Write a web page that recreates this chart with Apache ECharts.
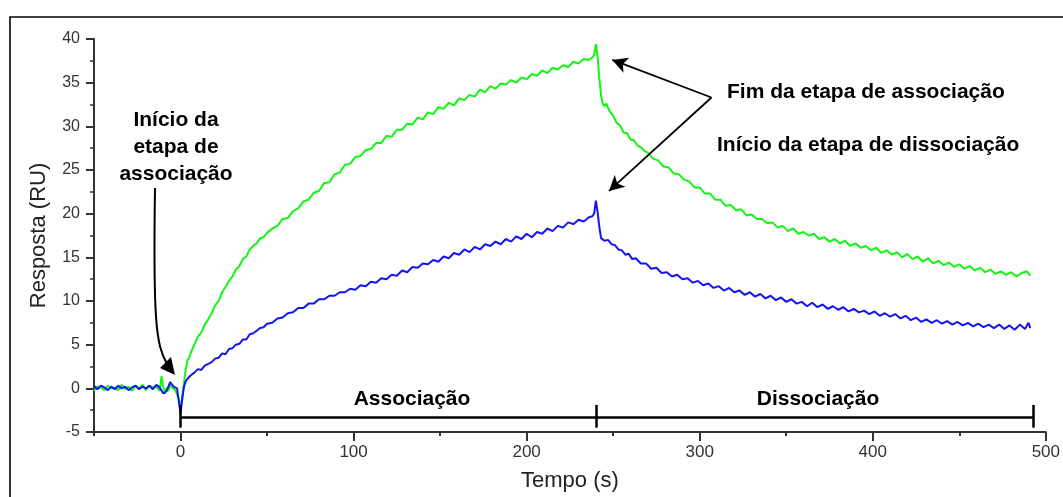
<!DOCTYPE html>
<html>
<head>
<meta charset="utf-8">
<script src="https://cdn.jsdelivr.net/npm/echarts@6/dist/echarts.min.js"></script>
<style>html,body{margin:0;padding:0;background:#fff}#c{width:1063px;height:497px}</style>
</head>
<body>
<div id="c"></div>
<script>
// Tick values
const xMajorTicks = [0, 100, 200, 300, 400, 500];

// Green sensorgram [time s, response RU]
const greenSeries = [[-50,-0.3],[-48,0.2],[-46,0.1],[-44,-0.2],[-42,0.3],[-40,0.0],[-38,0.1],[-36,-0.2],[-34,0.4],[-32,-0.1],[-30,0.2],[-28,-0.3],[-26,0.3],[-24,0.0],[-22,0.4],[-20,-0.2],[-18,0.3],[-16,0.1],[-14,0.2],[-12,-0.3],[-11,1.4],[-10,0.2],[-9,-0.6],[-8,0.1],[-7,-0.3],[-6,0.4],[-5,0.1],[-4,0.3],[-3,-0.2],[-2,-0.4],[-1,-1.2],[0,-2.3],[1,-0.8],[2,0.6],[3,2.2],[4,3.2],[5,3.5],[6,4.1],[8,5.0],[10,5.9],[12,6.4],[14,7.3],[16,7.9],[18,8.6],[20,9.5],[22,10.0],[24,11.0],[26,11.6],[28,12.3],[30,12.8],[32,13.6],[34,14.0],[36,14.8],[38,15.1],[40,15.9],[42,16.3],[44,16.6],[46,17.2],[48,17.3],[50,17.8],[53,18.3],[56,18.6],[59,19.4],[62,19.5],[65,20.3],[68,20.6],[71,21.4],[74,21.6],[77,22.4],[80,22.6],[83,23.5],[86,23.6],[89,24.5],[92,24.7],[95,25.6],[98,25.7],[101,26.5],[104,26.6],[107,27.3],[110,27.4],[113,28.1],[116,28.1],[119,28.9],[122,28.8],[125,29.6],[128,29.6],[131,30.3],[134,30.2],[137,31.0],[140,30.8],[143,31.6],[146,31.4],[149,32.2],[152,32.0],[155,32.7],[158,32.4],[161,33.2],[164,33.0],[167,33.6],[170,33.4],[173,34.2],[176,33.9],[179,34.6],[182,34.3],[185,34.9],[188,34.8],[191,35.3],[194,35.0],[197,35.6],[200,35.4],[203,36.0],[206,35.8],[209,36.4],[212,36.1],[215,36.7],[218,36.5],[221,37.0],[224,36.8],[227,37.4],[230,37.2],[233,37.7],[236,37.6],[238,37.9],[239,38.2],[240,39.4],[241,38.0],[242,35.5],[243,33.5],[244,32.6],[245,32.3],[246,32.6],[248,31.7],[250,31.2],[252,30.4],[254,30.1],[256,29.3],[258,29.2],[260,28.5],[262,28.4],[264,27.8],[266,27.6],[268,27.2],[270,27.0],[273,26.3],[276,26.1],[279,25.4],[282,25.3],[285,24.6],[288,24.5],[291,23.9],[294,23.7],[297,23.0],[300,23.0],[303,22.3],[306,22.3],[309,21.6],[312,21.6],[315,20.9],[318,21.0],[321,20.4],[324,20.5],[327,19.8],[330,19.9],[333,19.4],[336,19.4],[339,18.9],[342,19.0],[345,18.4],[348,18.6],[351,18.0],[354,18.3],[357,17.7],[360,17.9],[363,17.5],[366,17.7],[369,17.1],[372,17.3],[375,16.8],[378,17.1],[381,16.6],[384,16.9],[387,16.3],[390,16.6],[393,16.1],[396,16.3],[399,15.8],[402,16.1],[405,15.5],[408,15.8],[411,15.3],[414,15.6],[417,15.0],[420,15.4],[423,14.8],[426,15.1],[429,14.5],[432,14.9],[435,14.3],[438,14.6],[441,14.1],[444,14.4],[447,13.9],[450,14.2],[453,13.7],[456,14.0],[459,13.5],[462,13.8],[465,13.3],[468,13.6],[471,13.1],[474,13.4],[477,13.0],[480,13.3],[483,12.8],[486,13.2],[489,13.4],[491,12.9]];

// Blue sensorgram [time s, response RU]
const blueSeries = [[-50,0.3],[-48,-0.1],[-46,0.3],[-44,0.1],[-42,-0.2],[-40,0.2],[-38,-0.1],[-36,0.3],[-34,0.0],[-32,0.2],[-30,-0.2],[-28,0.1],[-26,0.3],[-24,-0.1],[-22,0.2],[-20,0.0],[-18,0.3],[-16,-0.1],[-14,0.4],[-12,0.1],[-10,-0.6],[-9,-0.8],[-8,-0.3],[-7,0.2],[-6,0.7],[-5,0.5],[-4,0.2],[-3,0.4],[-2,0.0],[-1,-1.5],[0,-2.9],[1,-1.2],[2,0.2],[3,0.8],[4,1.1],[6,1.5],[8,1.8],[10,2.2],[12,2.1],[14,2.6],[16,2.8],[18,3.0],[20,3.4],[22,3.5],[24,4.0],[26,3.9],[28,4.5],[30,4.6],[32,5.0],[34,5.1],[36,5.6],[38,5.6],[40,6.2],[42,6.3],[44,6.6],[46,6.9],[48,7.0],[50,7.4],[53,7.5],[56,8.0],[59,8.1],[62,8.6],[65,8.7],[68,9.2],[71,9.2],[74,9.7],[77,9.7],[80,10.2],[83,10.2],[86,10.6],[89,10.6],[92,11.0],[95,11.0],[98,11.4],[101,11.3],[104,11.8],[107,11.7],[110,12.2],[113,12.1],[116,12.6],[119,12.5],[122,13.0],[125,12.9],[128,13.5],[131,13.3],[134,13.9],[137,13.8],[140,14.3],[143,14.2],[146,14.7],[149,14.5],[152,15.1],[155,14.9],[158,15.5],[161,15.3],[164,15.9],[167,15.6],[170,16.2],[173,15.9],[176,16.5],[179,16.3],[182,16.8],[185,16.5],[188,17.1],[191,16.8],[194,17.4],[197,17.1],[200,17.7],[203,17.3],[206,17.9],[209,17.7],[212,18.3],[215,18.0],[218,18.6],[221,18.4],[224,19.0],[227,18.8],[230,19.3],[233,19.1],[236,19.6],[238,19.7],[239,20.0],[240,21.5],[241,20.2],[242,18.5],[243,17.2],[245,16.9],[247,17.0],[249,16.5],[251,16.4],[253,15.9],[255,15.8],[257,15.3],[259,15.4],[261,14.8],[263,14.9],[266,14.3],[269,14.3],[272,13.7],[275,13.8],[278,13.2],[281,13.3],[284,12.8],[287,13.0],[290,12.5],[293,12.6],[296,12.1],[299,12.3],[302,11.8],[305,12.0],[308,11.5],[311,11.7],[314,11.2],[317,11.5],[320,11.0],[323,11.2],[326,10.7],[329,11.0],[332,10.5],[335,10.8],[338,10.3],[341,10.6],[344,10.1],[347,10.4],[350,9.9],[353,10.2],[356,9.7],[359,9.9],[362,9.4],[365,9.8],[368,9.3],[371,9.6],[374,9.1],[377,9.4],[380,9.0],[383,9.3],[386,8.8],[389,9.1],[392,8.7],[395,8.9],[398,8.5],[401,8.8],[404,8.3],[407,8.6],[410,8.2],[413,8.5],[416,8.0],[419,8.3],[422,7.8],[425,8.1],[428,7.6],[431,7.9],[434,7.5],[437,7.8],[440,7.4],[443,7.7],[446,7.3],[449,7.6],[452,7.2],[455,7.5],[458,7.1],[461,7.4],[464,7.0],[467,7.3],[470,6.9],[473,7.3],[476,6.8],[479,7.2],[482,6.7],[485,7.3],[488,6.8],[490,7.5],[491,6.9]];

// Phase boundaries (s) and names
const phaseBounds = [0, 240, 493];
const phaseNames = ['Associação', 'Dissociação'];

const FONT = '"Liberation Sans", Arial, sans-serif';
const chart = echarts.init(document.getElementById('c'), null, {renderer: 'canvas'});

const bracketY = -3.3, bracketTop = -1.9, bracketBot = -4.5;
const lineSegs = [];
for (let i = 0; i < phaseBounds.length - 1; i++) {
  lineSegs.push([{coord: [phaseBounds[i], bracketY]}, {coord: [phaseBounds[i+1], bracketY]}]);
}
phaseBounds.forEach(b => lineSegs.push([{coord: [b, bracketTop]}, {coord: [b, bracketBot]}]));

const arrowSegs = [
  [{coord: [306.8, 33.3], symbol: 'none'}, {coord: [249.5, 37.6], symbol: 'arrow'}],
  [{coord: [306.8, 33.3], symbol: 'none'}, {coord: [247.6, 22.6], symbol: 'arrow'}]
];

const option = {
  animation: false,
  backgroundColor: '#fff',
  grid: {left: 94, right: 16, top: 39, bottom: 64},
  xAxis: [{
    type: 'value', min: -50, max: 500, interval: 50,
    name: 'Tempo (s)', nameLocation: 'middle', nameGap: 38,
    nameTextStyle: {fontFamily: FONT, fontSize: 22, color: '#222'},
    axisLine: {onZero: false, lineStyle: {color: '#333', width: 2}},
    axisTick: {show: true, length: 4, lineStyle: {color: '#333', width: 2}},
    axisLabel: {customValues: xMajorTicks, fontFamily: FONT, fontSize: 17, color: '#333', margin: 12},
    splitLine: {show: false}
  }, {
    type: 'value', min: -50, max: 500, interval: 50, position: 'bottom',
    axisLine: {show: false, onZero: false},
    axisTick: {show: true, length: 9, customValues: xMajorTicks, lineStyle: {color: '#333', width: 2}},
    axisLabel: {show: false},
    splitLine: {show: false}
  }],
  yAxis: {
    type: 'value', min: -5, max: 40, interval: 5,
    name: 'Resposta (RU)', nameLocation: 'middle', nameGap: 44,
    nameTextStyle: {fontFamily: FONT, fontSize: 22, color: '#222'},
    axisLine: {show: true, onZero: false, lineStyle: {color: '#333', width: 2}},
    axisTick: {show: true, length: 8, lineStyle: {color: '#333', width: 2}},
    minorTick: {show: true, splitNumber: 2, length: 4, lineStyle: {color: '#333', width: 1.5}},
    axisLabel: {fontFamily: FONT, fontSize: 16, color: '#333', margin: 14},
    splitLine: {show: false}
  },
  series: [{
    type: 'line', name: 'green', data: greenSeries, showSymbol: false, symbol: 'none',
    lineStyle: {color: '#14f514', width: 2}, z: 2
  }, {
    type: 'line', name: 'blue', data: blueSeries, showSymbol: false, symbol: 'none',
    lineStyle: {color: '#1414f5', width: 2}, z: 3,
    markLine: {
      silent: true, animation: false, symbol: 'none',
      label: {show: false},
      lineStyle: {color: '#000', width: 2.5, type: 'solid'},
      data: lineSegs
    }
  }, {
    type: 'line', name: 'arrows', data: [], showSymbol: false, z: 4,
    markLine: {
      silent: true, animation: false, symbolSize: [12, 15],
      label: {show: false},
      lineStyle: {color: '#000', width: 1.8, type: 'solid'},
      data: arrowSegs
    }
  }],
  graphic: [
    {type: 'rect', shape: {x: 10, y: 17, width: 1200, height: 700}, style: {fill: 'none', stroke: '#000', lineWidth: 1.6}, z: 100},
    {type: 'text', x: 176, y: 147, style: {text: 'Início da\netapa de\nassociação', font: 'bold 21px ' + FONT, fill: '#000', textAlign: 'center', textVerticalAlign: 'middle', lineHeight: 27}, z: 100},
    {type: 'text', x: 727, y: 92, style: {text: 'Fim da etapa de associação', font: 'bold 21px ' + FONT, fill: '#000', textAlign: 'left', textVerticalAlign: 'middle'}, z: 100},
    {type: 'text', x: 717, y: 145, style: {text: 'Início da etapa de dissociação', font: 'bold 21px ' + FONT, fill: '#000', textAlign: 'left', textVerticalAlign: 'middle'}, z: 100},
    {type: 'text', x: 412, y: 399, style: {text: phaseNames[0], font: 'bold 21px ' + FONT, fill: '#000', textAlign: 'center', textVerticalAlign: 'middle'}, z: 100},
    {type: 'text', x: 818, y: 399, style: {text: phaseNames[1], font: 'bold 21px ' + FONT, fill: '#000', textAlign: 'center', textVerticalAlign: 'middle'}, z: 100},
    {type: 'bezierCurve', shape: {x1: 155, y1: 188, cpx1: 153, cpy1: 320, cpx2: 156, cpy2: 345, x2: 167, y2: 364}, style: {stroke: '#000', lineWidth: 2, fill: 'none'}, z: 100},
    {type: 'polygon', shape: {points: [[175, 375], [160, 368], [171, 357]]}, style: {fill: '#000'}, z: 100}
  ]
};
chart.setOption(option);
</script>
</body>
</html>
